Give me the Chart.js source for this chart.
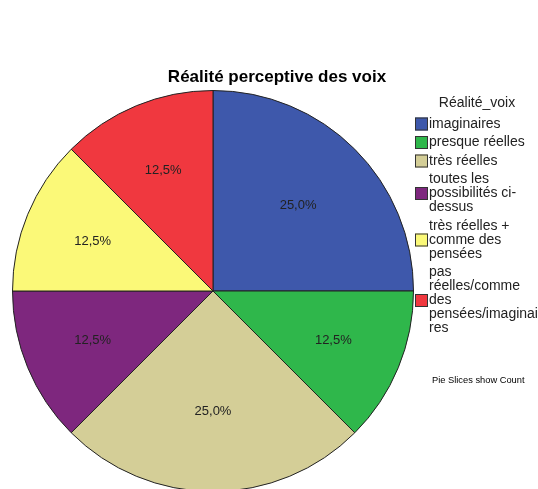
<!DOCTYPE html>
<html>
<head>
<meta charset="utf-8">
<script src="https://cdn.jsdelivr.net/npm/chart.js@4"></script>
<style>
  html, body { margin: 0; padding: 0; background: #fff; overflow: hidden; }
  #pie { position: absolute; left: 0; top: 0; }
</style>
</head>
<body>
<canvas id="pie" width="538" height="495"></canvas>
<script>
const chartTitle = 'Réalité perceptive des voix';
const legendTitle = 'Réalité_voix';
const categories = [
  'imaginaires',
  'presque réelles',
  'très réelles',
  'toutes les possibilités ci-dessus',
  'très réelles + comme des pensées',
  'pas réelles/comme des pensées/imaginaires'
];
// legend text as wrapped in the original
const legendLines = [
  ['imaginaires'],
  ['presque réelles'],
  ['très réelles'],
  ['toutes les', 'possibilités ci-', 'dessus'],
  ['très réelles +', 'comme des', 'pensées'],
  ['pas', 'réelles/comme', 'des', 'pensées/imaginai', 'res']
];
const counts = [2, 1, 2, 1, 1, 1];
const sliceColors = ['#3e58ab', '#2fb74b', '#d4ce97', '#7e277e', '#fbf978', '#f0383f'];
const footNote = 'Pie Slices show Count';

const FONT = '"Liberation Sans", Arial, sans-serif';

const labelPlugin = {
  id: 'spssLabels',
  afterDatasetsDraw(chart) {
    const ctx = chart.ctx;
    const meta = chart.getDatasetMeta(0);
    const total = counts.reduce((a, b) => a + b, 0);
    ctx.save();
    ctx.fillStyle = '#222';
    ctx.font = '13px ' + FONT;
    ctx.textAlign = 'center';
    ctx.textBaseline = 'middle';
    meta.data.forEach((arc, i) => {
      const p = arc.getProps(['x', 'y', 'startAngle', 'endAngle', 'outerRadius'], true);
      const mid = (p.startAngle + p.endAngle) / 2;
      // label sits on the sector's centroid
      const half = (p.endAngle - p.startAngle) / 2;
      const r = 2 * p.outerRadius * Math.sin(half) / (3 * half);
      const pct = (counts[i] / total * 100).toFixed(1).replace('.', ',') + '%';
      ctx.fillText(pct, p.x + Math.cos(mid) * r, p.y + Math.sin(mid) * r);
    });
    ctx.restore();
  },
  afterDraw(chart) {
    const ctx = chart.ctx;
    ctx.save();
    // title
    ctx.fillStyle = '#000';
    ctx.font = 'bold 17px ' + FONT;
    ctx.textAlign = 'center';
    ctx.textBaseline = 'middle';
    ctx.fillText(chartTitle, 277, 77);

    // legend
    ctx.font = '14px ' + FONT;
    ctx.fillStyle = '#222';
    ctx.fillText(legendTitle, 477, 103);
    ctx.textAlign = 'left';
    const lineH = 14;
    let y = 124;
    legendLines.forEach((lines, i) => {
      const midY = y + (lines.length - 1) * lineH / 2;
      ctx.fillStyle = sliceColors[i];
      ctx.fillRect(415, midY - 6.5, 13, 13);
      ctx.strokeStyle = '#333';
      ctx.lineWidth = 1;
      ctx.strokeRect(415.5, midY - 6, 12, 12);
      ctx.fillStyle = '#222';
      lines.forEach((t, k) => ctx.fillText(t, 429, y + k * lineH));
      y += (lines.length - 1) * lineH + 18.5;
    });

    ctx.font = '9.3px ' + FONT;
    ctx.fillStyle = '#000';
    ctx.fillText(footNote, 432, 380);
    ctx.restore();
  }
};

new Chart(document.getElementById('pie'), {
  type: 'pie',
  data: {
    labels: categories,
    datasets: [{
      data: counts,
      backgroundColor: sliceColors,
      borderColor: '#222',
      borderWidth: 1
    }]
  },
  options: {
    responsive: false,
    animation: false,
    layout: { padding: { left: 12, top: 90, right: 124, bottom: 3 } },
    plugins: {
      legend: { display: false },
      title: { display: false },
      tooltip: { enabled: false }
    }
  },
  plugins: [labelPlugin]
});
</script>
</body>
</html>
